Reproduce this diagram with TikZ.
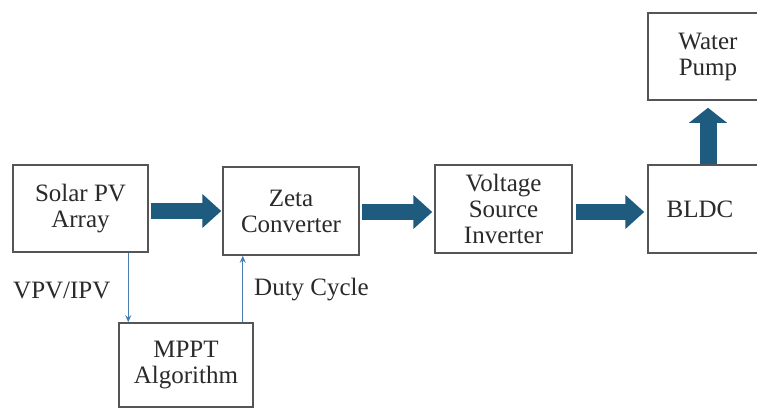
\documentclass[tikz,border=0pt]{standalone}
\usepackage{fontspec}
\setmainfont{Liberation Serif}
\usetikzlibrary{arrows.meta}
\definecolor{bigarrow}{HTML}{1E5B7E}
\definecolor{thinarrow}{HTML}{4A7DB0}
\definecolor{boxline}{HTML}{555555}
\definecolor{txt}{HTML}{2A2A2A}
\tikzset{
  blockbox/.style={draw=boxline, line width=1.5pt, fill=white, align=center, text=txt,
    font=\fontsize{25}{26}\selectfont, inner sep=0pt},
  bigflow/.style={draw=bigarrow, line width=16pt, -{Triangle[width=33pt,length=19pt]}},
  upflow/.style={draw=bigarrow, line width=17pt, -{Triangle[width=37pt,length=15pt]}},
  thinflow/.style={draw=thinarrow, line width=1.2pt, -{Stealth[length=7pt,width=6pt]}},
  lbl/.style={text=txt, font=\fontsize{25}{26}\selectfont, inner sep=0pt}
}
\begin{document}
\begin{tikzpicture}[x=1pt,y=-1pt]
\useasboundingbox (0,0) rectangle (757,410);
\clip (0,0) rectangle (757,410);
\fill[white] (0,0) rectangle (757,410);
\node[blockbox, minimum width=135pt, minimum height=87pt] (solar) at (80.5,208.5) {Solar PV\\Array};
\node[blockbox, minimum width=136pt, minimum height=88pt] (zeta) at (291,211) {Zeta\\Converter};
\node[blockbox, minimum width=137pt, minimum height=88pt] (vsi) at (503.5,209) {Voltage\\Source\\Inverter};
\node[blockbox, minimum width=120pt, minimum height=88pt] (bldc) at (708,209) {\hspace*{-16pt}BLDC};
\node[blockbox, minimum width=120pt, minimum height=87pt] (pump) at (708,56.5) {Water\\Pump};
\node[blockbox, minimum width=134pt, minimum height=84pt] (mppt) at (186,365) {MPPT\\Algorithm};
\node[lbl, anchor=west] (vpv) at (13,290) {VPV/IPV};
\node[lbl, anchor=west] (duty) at (254,290) {Duty Cycle};
\draw[bigflow] ([xshift=2pt]solar.east |- zeta.center) -- ([xshift=-1pt]zeta.west);
\draw[bigflow] ([xshift=2pt]zeta.east |- 0,212) -- ([xshift=-2pt]vsi.west |- 0,212);
\draw[bigflow] ([xshift=3pt]vsi.east |- 0,212) -- ([xshift=-3pt]bldc.west |- 0,212);
\draw[upflow] (bldc.north) -- ([yshift=-7pt]pump.south);
\draw[thinflow] ([xshift=10pt]mppt.north west |- solar.south) -- ([xshift=10pt]mppt.north west);
\draw[thinflow] ([xshift=-11pt]mppt.north east) -- ([xshift=-11pt]mppt.north east |- zeta.south);
\end{tikzpicture}
\end{document}
